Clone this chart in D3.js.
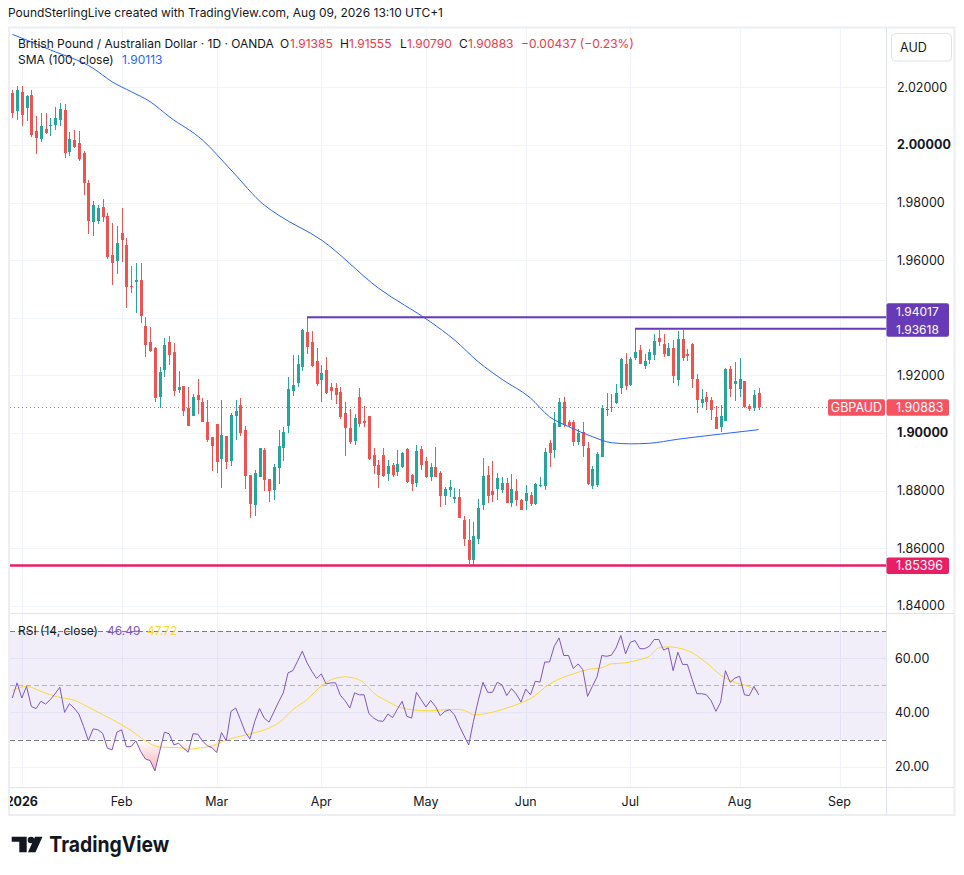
<!DOCTYPE html>
<html>
<head>
<meta charset="utf-8">
<script src="https://cdn.jsdelivr.net/npm/d3@7"></script>
<style>
  body { margin: 0; background: #fff; }
  svg text { font-family: Inter, Roboto, "Noto Sans", sans-serif; }
</style>
</head>
<body>
<script>
// GBP/AUD daily candles, 30 Dec 2025 .. 7 Aug 2026
const open = [
  2.0181, 2.0119, 2.0184, 2.0129, 2.0173, 2.0048, 2.0022, 2.0055, 2.0068, 2.0068,
  2.0088, 2.0121, 1.9977, 2.0017, 2.0007, 1.9972, 1.9868, 1.9734, 1.9737, 1.9785,
  1.9753, 1.9618, 1.9598, 1.9694, 1.9653, 1.9510, 1.9525, 1.9531, 1.9372, 1.9314,
  1.9294, 1.9123, 1.9219, 1.9315, 1.9282, 1.9149, 1.9163, 1.9088, 1.9060, 1.9132,
  1.9109, 1.9039, 1.8985, 1.9032, 1.8908, 1.8988, 1.8901, 1.9057, 1.9098, 1.9011,
  1.8853, 1.8750, 1.8847, 1.8942, 1.8839, 1.8801, 1.8878, 1.8949, 1.9023, 1.9146,
  1.9175, 1.9230, 1.9349, 1.9315, 1.9249, 1.9182, 1.9218, 1.9158, 1.9155, 1.9141,
  1.9068, 1.9017, 1.8973, 1.9124, 1.9042, 1.9058, 1.8923, 1.8888, 1.8925, 1.8857,
  1.8887, 1.8865, 1.8882, 1.8944, 1.8854, 1.8827, 1.8944, 1.8902, 1.8846, 1.8882,
  1.8861, 1.8782, 1.8803, 1.8770, 1.8778, 1.8698, 1.8629, 1.8557, 1.8631, 1.8748,
  1.8854, 1.8798, 1.8804, 1.8801, 1.8825, 1.8755, 1.8797, 1.8767, 1.8763, 1.8784,
  1.8753, 1.8816, 1.8816, 1.8966, 1.8942, 1.9021, 1.9108, 1.9037, 1.9037, 1.8969,
  1.9002, 1.8946, 1.8816, 1.8819, 1.8917, 1.9081, 1.9087, 1.9104, 1.9157, 1.9238,
  1.9165, 1.9260, 1.9289, 1.9232, 1.9252, 1.9272, 1.9328, 1.9308, 1.9268, 1.9294,
  1.9183, 1.9325, 1.9274, 1.9308, 1.9188, 1.9104, 1.9123, 1.9113, 1.9055, 1.9021,
  1.9042, 1.9221, 1.9171, 1.9153, 1.9180, 1.9092, 1.9087, 1.91385
];
const high = [
  2.0191, 2.0205, 2.0205, 2.0173, 2.0191, 2.0100, 2.0111, 2.0111, 2.0092, 2.0132,
  2.0146, 2.0142, 2.0045, 2.0052, 2.0048, 1.9979, 1.9878, 1.9805, 1.9792, 1.9812,
  1.9763, 1.9728, 1.9719, 1.9781, 1.9676, 1.9580, 1.9591, 1.9591, 1.9404, 1.9367,
  1.9300, 1.9230, 1.9330, 1.9336, 1.9311, 1.9215, 1.9163, 1.9159, 1.9136, 1.9187,
  1.9121, 1.9113, 1.8985, 1.9032, 1.9115, 1.8988, 1.9069, 1.9115, 1.9122, 1.9025,
  1.8853, 1.8870, 1.8946, 1.8946, 1.8839, 1.8892, 1.9009, 1.9019, 1.9193, 1.9270,
  1.9270, 1.9361, 1.94017, 1.9354, 1.9294, 1.9236, 1.9262, 1.9172, 1.9172, 1.9158,
  1.9109, 1.9082, 1.9067, 1.9155, 1.9092, 1.9058, 1.8948, 1.8905, 1.8947, 1.8906,
  1.8894, 1.8940, 1.8933, 1.8948, 1.8857, 1.8957, 1.8954, 1.8915, 1.8897, 1.8951,
  1.8869, 1.8813, 1.8837, 1.8808, 1.8805, 1.8710, 1.8702, 1.8690, 1.8772, 1.8913,
  1.8885, 1.8902, 1.8861, 1.8847, 1.8842, 1.8859, 1.8839, 1.8770, 1.8819, 1.8795,
  1.8827, 1.8847, 1.8949, 1.8975, 1.9072, 1.9120, 1.9123, 1.9044, 1.9044, 1.9014,
  1.9038, 1.8969, 1.8884, 1.8935, 1.9096, 1.9140, 1.9136, 1.9171, 1.9260, 1.9279,
  1.9264, 1.93618, 1.9304, 1.9275, 1.9292, 1.9342, 1.9356, 1.9342, 1.9312, 1.9324,
  1.9354, 1.9356, 1.9291, 1.9312, 1.9203, 1.9151, 1.9141, 1.9123, 1.9092, 1.9096,
  1.9227, 1.9233, 1.9247, 1.9260, 1.9180, 1.9099, 1.9150, 1.91555
];
const low = [
  2.0095, 2.0087, 2.0067, 2.0084, 2.0029, 1.9970, 2.0011, 2.0039, 2.0032, 2.0052,
  2.0064, 1.9956, 1.9963, 1.9990, 1.9945, 1.9827, 1.9689, 1.9682, 1.9726, 1.9734,
  1.9605, 1.9512, 1.9553, 1.9595, 1.9432, 1.9485, 1.9418, 1.9381, 1.9265, 1.9280,
  1.9107, 1.9086, 1.9193, 1.9236, 1.9129, 1.9138, 1.9057, 1.9025, 1.9057, 1.9065,
  1.9037, 1.8970, 1.8868, 1.8862, 1.8809, 1.8876, 1.8885, 1.8977, 1.8988, 1.8804,
  1.8703, 1.8712, 1.8847, 1.8800, 1.8761, 1.8766, 1.8822, 1.8902, 1.8998, 1.9129,
  1.9159, 1.9216, 1.9273, 1.9230, 1.9163, 1.9109, 1.9135, 1.9113, 1.9102, 1.9050,
  1.8921, 1.8961, 1.8957, 1.9019, 1.9021, 1.8906, 1.8857, 1.8810, 1.8846, 1.8834,
  1.8848, 1.8850, 1.8879, 1.8825, 1.8800, 1.8813, 1.8871, 1.8842, 1.8833, 1.8846,
  1.8741, 1.8751, 1.8779, 1.8755, 1.8703, 1.8606, 1.8546, 1.85396, 1.8615, 1.8733,
  1.8756, 1.8761, 1.8766, 1.8793, 1.8757, 1.8743, 1.8746, 1.8732, 1.8732, 1.8747,
  1.8749, 1.8813, 1.8801, 1.8880, 1.8913, 1.9021, 1.9021, 1.9019, 1.8954, 1.8957,
  1.8917, 1.8819, 1.8804, 1.8813, 1.8917, 1.9058, 1.9071, 1.9099, 1.9136, 1.9150,
  1.9162, 1.9252, 1.9238, 1.9222, 1.9240, 1.9252, 1.9301, 1.9264, 1.9266, 1.9173,
  1.9163, 1.9250, 1.9250, 1.9156, 1.9069, 1.9090, 1.9079, 1.9044, 1.9012, 1.9002,
  1.9042, 1.9125, 1.9111, 1.9123, 1.9088, 1.9076, 1.9076, 1.90790
];
const close = [
  2.0112, 2.0191, 2.0105, 2.0170, 2.0036, 2.0025, 2.0066, 2.0041, 2.0069, 2.0094,
  2.0125, 1.9973, 2.0021, 1.9994, 1.9952, 1.9866, 1.9737, 1.9792, 1.9782, 1.9751,
  1.9610, 1.9591, 1.9660, 1.9671, 1.9505, 1.9508, 1.9531, 1.9407, 1.9306, 1.9283,
  1.9121, 1.9212, 1.9304, 1.9270, 1.9147, 1.9159, 1.9075, 1.9025, 1.9124, 1.9113,
  1.9037, 1.8975, 1.8954, 1.8899, 1.8991, 1.8899, 1.9062, 1.9077, 1.8998, 1.8850,
  1.8754, 1.8860, 1.8946, 1.8835, 1.8799, 1.8880, 1.8953, 1.9004, 1.9153, 1.9167,
  1.9239, 1.9356, 1.9297, 1.9234, 1.9170, 1.9207, 1.9140, 1.9145, 1.9131, 1.9056,
  1.9018, 1.8970, 1.9053, 1.9032, 1.9035, 1.8910, 1.8886, 1.8854, 1.8850, 1.8885,
  1.8855, 1.8891, 1.8929, 1.8830, 1.8821, 1.8937, 1.8888, 1.8848, 1.8882, 1.8848,
  1.8782, 1.8805, 1.8812, 1.8778, 1.8703, 1.8633, 1.8560, 1.8643, 1.8740, 1.8850,
  1.8782, 1.8784, 1.8842, 1.8825, 1.8758, 1.8805, 1.8767, 1.8732, 1.8791, 1.8753,
  1.8824, 1.8818, 1.8932, 1.8931, 1.9036, 1.9108, 1.9027, 1.9023, 1.8969, 1.8998,
  1.8955, 1.8823, 1.8873, 1.8926, 1.9088, 1.9083, 1.9089, 1.9139, 1.9255, 1.9162,
  1.9258, 1.9282, 1.9238, 1.9249, 1.9280, 1.9318, 1.9314, 1.9274, 1.9294, 1.9198,
  1.9325, 1.9260, 1.9267, 1.9186, 1.9113, 1.9117, 1.9106, 1.9081, 1.9012, 1.9058,
  1.9221, 1.9151, 1.9180, 1.9188, 1.9090, 1.9083, 1.9132, 1.90883
];

// SMA(100) read at a few bars
const smaBar = [0, 8, 17, 21, 25, 29, 33, 40, 46, 53, 56, 65, 77, 88, 93, 98, 103, 109, 113, 117, 122, 126, 130, 134, 140, 149, 157];
const smaVal = [2.0384, 2.0330, 2.0266, 2.0219, 2.0185, 2.0150, 2.0098, 2.0017, 1.9913, 1.9791, 1.9756, 1.9670, 1.9503, 1.9385, 1.9323, 1.9247, 1.9186, 1.9121, 1.9056, 1.9022, 1.8987, 1.8966, 1.8962, 1.8964, 1.8978, 1.8996, 1.90113];

// RSI(14), one value per bar
const rsi = [
  45.3, 50.9, 45.3, 49.6, 42.2, 41.4, 44.1, 43.1, 44.7, 46.9,
  49.3, 40.0, 43.2, 41.6, 39.4, 34.8, 29.6, 33.9, 33.6, 32.3,
  26.8, 26.2, 32.7, 33.6, 27.3, 27.4, 29.5, 25.6, 22.8, 22.2,
  18.4, 25.6, 32.7, 32.1, 28.0, 28.6, 26.8, 25.3, 32.1, 32.0,
  29.5, 27.7, 27.0, 25.2, 32.6, 29.5, 40.4, 41.6, 37.3, 32.7,
  30.2, 36.7, 41.4, 37.9, 36.4, 40.1, 43.8, 47.2, 54.6, 55.4,
  58.9, 62.6, 58.3, 55.2, 52.5, 54.2, 50.5, 50.9, 50.9, 46.3,
  44.3, 41.6, 47.2, 46.5, 46.5, 39.6, 37.9, 36.9, 36.7, 39.4,
  38.1, 41.2, 44.1, 38.5, 37.9, 47.4, 44.7, 42.0, 44.4, 42.2,
  38.8, 40.4, 41.0, 39.1, 35.1, 31.5, 28.0, 36.7, 44.3, 51.1,
  47.4, 47.4, 51.1, 50.2, 46.2, 48.8, 46.8, 43.8, 48.6, 46.5,
  51.5, 51.2, 58.6, 58.6, 64.4, 67.5, 61.0, 61.0, 56.2, 57.9,
  55.8, 45.9, 49.6, 53.1, 61.0, 60.7, 61.1, 63.8, 68.4, 61.6,
  65.9, 66.5, 63.5, 63.5, 64.4, 66.9, 66.9, 63.0, 63.8, 55.4,
  62.2, 57.7, 57.7, 52.1, 46.9, 46.9, 46.5, 44.3, 40.4, 43.8,
  55.4, 51.1, 52.7, 53.3, 46.5, 46.2, 49.6, 46.49
];
// RSI smoothing line (SMA 14) read at a few bars
const rsiMaBar = [0, 3, 6, 9, 13, 17, 21, 25, 28, 31, 35, 37, 40, 42, 44, 47, 51, 54, 57, 59, 62, 65, 67, 70, 72, 74, 76, 79, 81, 84, 88, 91, 94, 96, 97, 100, 104, 107, 110, 112, 115, 118, 121, 124, 126, 129, 132, 134, 136, 138, 140, 143, 146, 149, 152, 154, 157];
const rsiMaVal = [48.0, 49.6, 47.8, 45.9, 44.5, 41.0, 37.4, 33.3, 29.5, 27.2, 27.0, 26.4, 27.0, 27.6, 29.1, 30.8, 32.5, 34.2, 37.5, 41.0, 44.7, 49.8, 52.0, 53.1, 52.6, 50.9, 47.2, 44.0, 42.2, 41.0, 40.6, 41.0, 41.1, 40.0, 39.1, 39.7, 41.6, 43.5, 46.2, 49.2, 52.3, 54.2, 55.8, 56.5, 57.9, 58.3, 59.5, 60.7, 63.8, 64.2, 63.8, 62.0, 58.3, 53.8, 51.0, 50.1, 47.72];

const priceTicks = [2.02, 2.00, 1.98, 1.96, 1.94, 1.92, 1.90, 1.88, 1.86, 1.84];
const boldTicks = [2.00, 1.90];
const rsiTicks = [60, 40, 20];
const monthLabels = ["2026", "Feb", "Mar", "Apr", "May", "Jun", "Jul", "Aug", "Sep"];

const hiLine = {price: 1.94017, from: 62};
const hiLine2 = {price: 1.93618, from: 131};
const lowLine = 1.85396;

const W = 964, H = 875;
const L = 10, R = 886, mainTop = 28, mainBot = 613, rsiBot = 787, axisBot = 815;
const up = "#26a69a", down = "#ef5350";

// weekday trading days (no bar on 1 Jan), running past the data for the future axis
const days = d3.timeDay.range(new Date(2025, 11, 30), new Date(2026, 8, 30))
  .filter(d => d.getDay() % 6 !== 0 && !(d.getMonth() === 0 && d.getDate() === 1));

const x = d3.scaleLinear().domain([0, 157]).range([12.3, 758.7]);
const y = d3.scaleLinear().domain([1.84, 2.02]).range([605.7, 87.3]);
const ry = d3.scaleLinear().domain([30, 70]).range([739.5, 631.1]);

const svg = d3.select("body").append("svg").attr("width", W).attr("height", H);
const defs = svg.append("defs");
defs.append("clipPath").attr("id", "clipMain").append("rect")
  .attr("x", L).attr("y", mainTop).attr("width", R - L).attr("height", mainBot - mainTop);
defs.append("clipPath").attr("id", "clipRsi").append("rect")
  .attr("x", L).attr("y", mainBot).attr("width", R - L).attr("height", rsiBot - mainBot);
defs.append("clipPath").attr("id", "clipOS").append("rect")
  .attr("x", L).attr("y", ry(30)).attr("width", R - L).attr("height", rsiBot - ry(30));
defs.append("clipPath").attr("id", "clipAxis").append("rect")
  .attr("x", L).attr("y", rsiBot).attr("width", R - L).attr("height", axisBot - rsiBot);
const grad = defs.append("linearGradient").attr("id", "osGrad")
  .attr("gradientUnits", "userSpaceOnUse").attr("x1", 0).attr("x2", 0)
  .attr("y1", ry(30)).attr("y2", ry(0));
grad.append("stop").attr("offset", 0).attr("stop-color", "#f23645").attr("stop-opacity", 0);
grad.append("stop").attr("offset", 1).attr("stop-color", "#f23645").attr("stop-opacity", 1);

// caption
svg.append("text").attr("x", 8).attr("y", 12).attr("dominant-baseline", "central")
  .attr("font-size", 12).attr("fill", "#131722")
  .text("PoundSterlingLive created with TradingView.com, Aug 09, 2026 13:10 UTC+1");

// frame
svg.append("rect").attr("x", 9).attr("y", 27.5).attr("width", 945.5).attr("height", 787.5)
  .attr("fill", "none").attr("stroke", "#eceef2").attr("stroke-width", 2);

// month ticks
const monthTicks = [];
days.forEach((d, i) => {
  if (i > 0 && d.getMonth() !== days[i - 1].getMonth() && monthTicks.length < monthLabels.length)
    monthTicks.push({i, label: monthLabels[monthTicks.length]});
});

// grid
const grid = svg.append("g").attr("stroke", "#f0f3fa").attr("stroke-width", 1);
grid.selectAll(".vg").data(monthTicks).join("line")
  .attr("x1", d => Math.round(x(d.i)) + 0.5).attr("x2", d => Math.round(x(d.i)) + 0.5)
  .attr("y1", mainTop).attr("y2", rsiBot);
grid.selectAll(".hg").data(priceTicks).join("line")
  .attr("x1", L).attr("x2", R).attr("y1", d => Math.round(y(d)) + 0.5).attr("y2", d => Math.round(y(d)) + 0.5);
grid.selectAll(".rg").data(rsiTicks).join("line")
  .attr("x1", L).attr("x2", R).attr("y1", d => Math.round(ry(d)) + 0.5).attr("y2", d => Math.round(ry(d)) + 0.5);

// ---------- main pane ----------
const main = svg.append("g").attr("clip-path", "url(#clipMain)");

// last price dotted line
main.append("line").attr("x1", L).attr("x2", R)
  .attr("y1", y(close[157])).attr("y2", y(close[157]))
  .attr("stroke", "#ef5350").attr("stroke-width", 1).attr("stroke-dasharray", "1 3");

const bars = d3.range(open.length);
const cg = main.append("g").attr("shape-rendering", "crispEdges");
cg.selectAll(".wick").data(bars).join("line")
  .attr("x1", i => Math.round(x(i)) + 0.5).attr("x2", i => Math.round(x(i)) + 0.5)
  .attr("y1", i => y(high[i])).attr("y2", i => y(low[i]))
  .attr("stroke", i => close[i] >= open[i] ? up : down);
cg.selectAll(".body").data(bars).join("rect")
  .attr("x", i => Math.round(x(i)) - 1).attr("width", 3)
  .attr("y", i => y(Math.max(open[i], close[i])))
  .attr("height", i => Math.max(1, Math.abs(y(open[i]) - y(close[i]))))
  .attr("fill", i => close[i] >= open[i] ? up : down);

// SMA 100
main.append("path").datum(smaBar)
  .attr("d", d3.line().x(i => x(i)).y((i, k) => y(smaVal[k])).curve(d3.curveMonotoneX))
  .attr("fill", "none").attr("stroke", "#2962ff").attr("stroke-width", 1);

// horizontal drawings
main.append("line").attr("x1", x(hiLine.from)).attr("x2", R)
  .attr("y1", y(hiLine.price)).attr("y2", y(hiLine.price))
  .attr("stroke", "#673ab7").attr("stroke-width", 2);
main.append("line").attr("x1", x(hiLine2.from)).attr("x2", R)
  .attr("y1", y(hiLine2.price)).attr("y2", y(hiLine2.price))
  .attr("stroke", "#673ab7").attr("stroke-width", 2);
main.append("line").attr("x1", L).attr("x2", R)
  .attr("y1", y(lowLine)).attr("y2", y(lowLine))
  .attr("stroke", "#e91e63").attr("stroke-width", 2.5);

// legend
const fmt5 = d3.format(".5f");
const red = "#f23645";
const t1 = svg.append("g").attr("font-size", 12);
const legend1 = [
  {x: 18, t: "British Pound / Australian Dollar · 1D · OANDA", c: "#131722"},
  {x: 280, t: "O", c: "#131722"}, {x: 290, t: fmt5(open[157]), c: red},
  {x: 340, t: "H", c: "#131722"}, {x: 349, t: fmt5(high[157]), c: red},
  {x: 400, t: "L", c: "#131722"}, {x: 407, t: fmt5(low[157]), c: red},
  {x: 459, t: "C", c: "#131722"}, {x: 468, t: fmt5(close[157]), c: red},
  {x: 521, t: "−0.00437 (−0.23%)", c: red}
];
t1.selectAll("text").data(legend1).join("text")
  .attr("x", d => d.x).attr("y", 43).attr("dominant-baseline", "central")
  .attr("fill", d => d.c).text(d => d.t);
t1.append("text").attr("x", 18).attr("y", 59).attr("dominant-baseline", "central")
  .attr("fill", "#131722").text("SMA (100, close)");
t1.append("text").attr("x", 122).attr("y", 59).attr("dominant-baseline", "central")
  .attr("fill", "#2962ff").text(fmt5(smaVal[smaVal.length - 1]));

// ---------- RSI pane ----------
const rp = svg.append("g").attr("clip-path", "url(#clipRsi)");
rp.append("rect").attr("x", L).attr("width", R - L)
  .attr("y", ry(70)).attr("height", ry(30) - ry(70))
  .attr("fill", "#7e57c2").attr("fill-opacity", 0.1);
[70, 50, 30].forEach(v => {
  rp.append("line").attr("x1", L).attr("x2", R)
    .attr("y1", Math.round(ry(v)) + 0.5).attr("y2", Math.round(ry(v)) + 0.5)
    .attr("stroke", "#787b86").attr("stroke-opacity", v === 50 ? 0.5 : 1)
    .attr("stroke-dasharray", "5 3");
});
rp.append("path").datum(bars)
  .attr("clip-path", "url(#clipOS)")
  .attr("d", d3.area().x(i => x(i)).y0(ry(30)).y1(i => ry(rsi[i])))
  .attr("fill", "url(#osGrad)");
rp.append("path").datum(rsiMaBar)
  .attr("d", d3.line().x(i => x(i)).y((i, k) => ry(rsiMaVal[k])).curve(d3.curveMonotoneX))
  .attr("fill", "none").attr("stroke", "#fdd835").attr("stroke-width", 1);
rp.append("path").datum(bars)
  .attr("d", d3.line().x(i => x(i)).y(i => ry(rsi[i])))
  .attr("fill", "none").attr("stroke", "#7e57c2").attr("stroke-width", 1);

const t2 = svg.append("g").attr("font-size", 12);
t2.append("text").attr("x", 18).attr("y", 630).attr("dominant-baseline", "central")
  .attr("fill", "#131722").text("RSI (14, close)");
t2.append("text").attr("x", 107).attr("y", 630).attr("dominant-baseline", "central")
  .attr("fill", "#7e57c2").text(d3.format(".2f")(rsi[157]));
t2.append("text").attr("x", 147).attr("y", 630).attr("dominant-baseline", "central")
  .attr("fill", "#fdd835").text(d3.format(".2f")(rsiMaVal[rsiMaVal.length - 1]));

// ---------- separators ----------
const sep = svg.append("g").attr("stroke", "#e0e3eb").attr("stroke-width", 1);
sep.append("line").attr("x1", R + 0.5).attr("x2", R + 0.5).attr("y1", mainTop).attr("y2", axisBot);
sep.append("line").attr("x1", L).attr("x2", 954).attr("y1", mainBot + 0.5).attr("y2", mainBot + 0.5);
sep.append("line").attr("x1", L).attr("x2", 954).attr("y1", rsiBot + 0.5).attr("y2", rsiBot + 0.5);

// ---------- price axis ----------
const pa = svg.append("g").attr("font-size", 12.5).attr("fill", "#131722");
pa.selectAll("text").data(priceTicks.filter(d => d !== 1.94)).join("text")
  .attr("x", 897).attr("y", d => y(d)).attr("dominant-baseline", "central")
  .attr("font-weight", d => boldTicks.includes(d) ? 700 : 400)
  .text(d => fmt5(d));
pa.selectAll(".rt").data(rsiTicks).join("text")
  .attr("x", 895).attr("y", d => ry(d)).attr("dominant-baseline", "central")
  .text(d => d3.format(".2f")(d));

// currency box
svg.append("rect").attr("x", 891.5).attr("y", 33.5).attr("width", 60).attr("height", 27.5)
  .attr("rx", 4).attr("fill", "#fff").attr("stroke", "#e0e3eb");
svg.append("text").attr("x", 900).attr("y", 47.5).attr("dominant-baseline", "central")
  .attr("font-size", 12.5).attr("fill", "#131722").text("AUD");

// purple labels (stacked)
svg.append("rect").attr("x", 886.5).attr("y", 303.3).attr("width", 62.5).attr("height", 33.4)
  .attr("rx", 2).attr("fill", "#673ab7");
svg.append("text").attr("x", 896).attr("y", 311.2).attr("dominant-baseline", "central")
  .attr("font-size", 12).attr("fill", "#fff").text(fmt5(hiLine.price));
svg.append("text").attr("x", 896).attr("y", 329.2).attr("dominant-baseline", "central")
  .attr("font-size", 12).attr("fill", "#fff").text(fmt5(hiLine2.price));

// last price label
const ly = y(close[157]);
svg.append("rect").attr("x", 828).attr("y", ly - 8.2).attr("width", 57).attr("height", 16.5)
  .attr("rx", 2).attr("fill", "#f7525f");
svg.append("text").attr("x", 856.5).attr("y", ly).attr("text-anchor", "middle")
  .attr("dominant-baseline", "central").attr("font-size", 12.5).attr("fill", "#fff").text("GBPAUD");
svg.append("rect").attr("x", 886.5).attr("y", ly - 8.2).attr("width", 62.5).attr("height", 16.5)
  .attr("rx", 2).attr("fill", "#f7525f");
svg.append("text").attr("x", 896).attr("y", ly).attr("dominant-baseline", "central")
  .attr("font-size", 12.5).attr("fill", "#fff").text(fmt5(close[157]));

// low line label
svg.append("rect").attr("x", 886.5).attr("y", y(lowLine) - 8).attr("width", 62.5).attr("height", 16.5)
  .attr("rx", 2).attr("fill", "#e91e63");
svg.append("text").attr("x", 896).attr("y", y(lowLine)).attr("dominant-baseline", "central")
  .attr("font-size", 12.5).attr("fill", "#fff").text(fmt5(lowLine));

// ---------- time axis ----------
const ta = svg.append("g").attr("clip-path", "url(#clipAxis)").attr("font-size", 12.5).attr("fill", "#131722");
ta.selectAll("text").data(monthTicks).join("text")
  .attr("x", d => x(d.i)).attr("y", 801).attr("text-anchor", "middle")
  .attr("dominant-baseline", "central")
  .attr("font-weight", d => d.label === "2026" ? 700 : 400)
  .text(d => d.label);

// ---------- logo ----------
const logo = svg.append("g").attr("fill", "#131722");
logo.append("path").attr("d", "M11.7,836.7 H26.7 V852.3 H19.3 V841.8 H11.7 Z");
logo.append("circle").attr("cx", 31).attr("cy", 840).attr("r", 3.3);
logo.append("path").attr("d", "M35,836.7 H42.5 L35.5,852.3 H28 Z");
logo.append("text").attr("x", 49.3).attr("y", 852.3).attr("font-size", 22).attr("font-weight", 700)
  .attr("textLength", 120).attr("lengthAdjust", "spacingAndGlyphs").text("TradingView");
</script>
</body>
</html>
